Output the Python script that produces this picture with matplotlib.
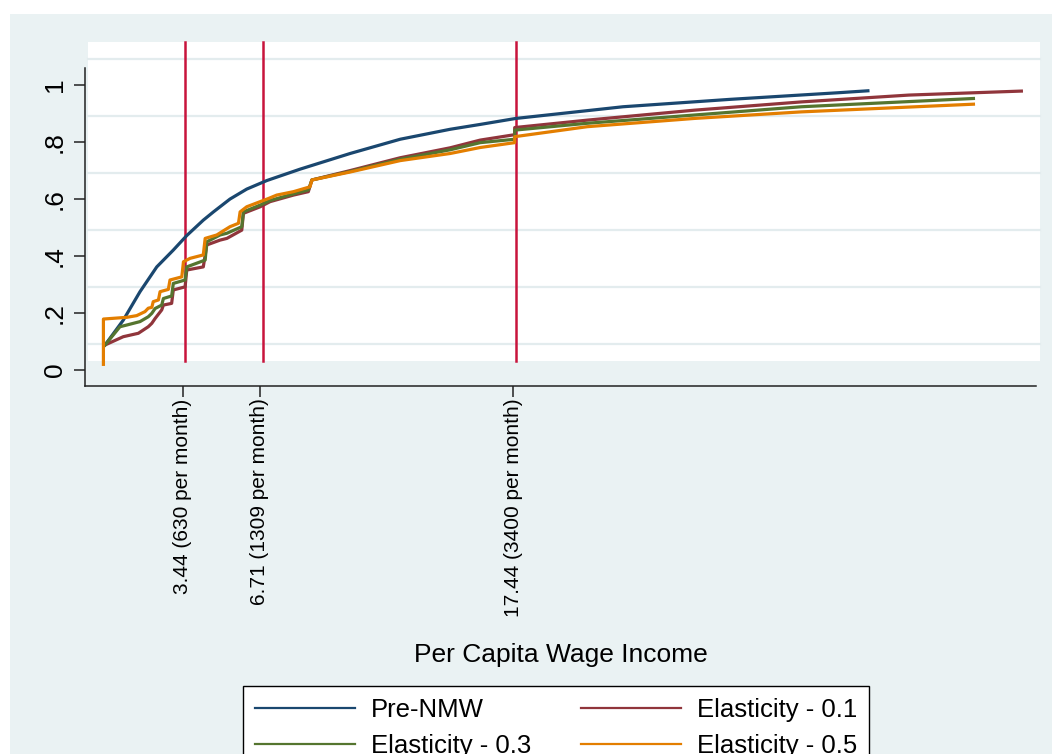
import matplotlib.pyplot as plt
import matplotlib.transforms as mtransforms
from matplotlib.patches import Rectangle
from matplotlib.lines import Line2D

plt.rcParams['font.family'] = ['Liberation Sans', 'DejaVu Sans']

# minimum wage levels, per capita per day
mw_values = [3.44, 6.71, 17.44]
mw_labels = ['3.44 (630 per month)', '6.71 (1309 per month)', '17.44 (3400 per month)']

y_ticks = [0, 0.2, 0.4, 0.6, 0.8, 1]
y_ticklabels = ['0', '.2', '.4', '.6', '.8', '1']

# cumulative distributions of per capita wage income
pre_x = [0.15, 0.92, 1.63, 2.34, 3.04, 3.61, 4.31, 4.74, 5.44, 6.15, 7.00, 8.41, 10.53,
         12.65, 14.77, 16.04, 17.55, 22.09, 26.63, 31.17, 32.46]
pre_y = [0.088, 0.175, 0.275, 0.362, 0.421, 0.472, 0.526, 0.555, 0.60, 0.635, 0.665, 0.705,
         0.76, 0.81, 0.845, 0.862, 0.883, 0.924, 0.95, 0.973, 0.98]

e01_x = [0.15, 0.92, 1.56, 1.98, 2.13, 2.27, 2.55, 2.62, 2.97, 3.04, 3.54, 3.61, 4.31, 4.46,
         5.02, 5.31, 5.94, 6.01, 6.72, 7.14, 8.13, 8.76, 8.91, 10.53, 12.65, 14.77, 16.04,
         17.5, 17.5, 20.57, 25.11, 29.64, 34.20, 38.96]
e01_y = [0.088, 0.117, 0.129, 0.152, 0.164, 0.181, 0.211, 0.228, 0.234, 0.281, 0.292, 0.351,
         0.362, 0.439, 0.456, 0.462, 0.491, 0.550, 0.573, 0.591, 0.614, 0.626, 0.667, 0.70,
         0.745, 0.78, 0.807, 0.826, 0.851, 0.877, 0.912, 0.941, 0.965, 0.979]

e03_x = [0.15, 0.78, 1.07, 1.63, 1.98, 2.13, 2.27, 2.55, 2.62, 2.97, 3.04, 3.54, 3.61, 4.39,
         4.46, 5.02, 5.31, 5.94, 6.01, 6.72, 7.14, 8.13, 8.76, 8.91, 10.53, 12.65, 14.77,
         16.04, 17.5, 17.5, 20.57, 25.11, 29.64, 36.93]
e03_y = [0.088, 0.152, 0.158, 0.170, 0.187, 0.199, 0.216, 0.228, 0.251, 0.26, 0.304, 0.316,
         0.362, 0.386, 0.45, 0.474, 0.48, 0.503, 0.555, 0.579, 0.595, 0.618, 0.632, 0.667,
         0.697, 0.74, 0.773, 0.798, 0.81, 0.842, 0.866, 0.895, 0.924, 0.953]

e05_x = [0.08, 0.08, 1.07, 1.49, 1.84, 1.98, 2.13, 2.19, 2.41, 2.48, 2.83, 2.90, 3.40, 3.47,
         3.75, 4.31, 4.39, 4.88, 5.44, 5.80, 5.87, 6.15, 6.72, 7.07, 7.42, 8.13, 8.83, 8.91,
         10.53, 12.65, 14.77, 16.04, 17.5, 17.5, 20.57, 25.11, 29.64, 36.93]
e05_y = [0.02, 0.179, 0.185, 0.191, 0.205, 0.217, 0.220, 0.240, 0.246, 0.275, 0.283, 0.316,
         0.327, 0.380, 0.392, 0.404, 0.462, 0.474, 0.503, 0.515, 0.555, 0.573, 0.591, 0.602,
         0.614, 0.626, 0.643, 0.667, 0.695, 0.735, 0.76, 0.781, 0.798, 0.819, 0.854, 0.883,
         0.906, 0.933]

W, H = 1052, 754
bg = '#eaf2f3'
axis_col = '#222222'

fig = plt.figure(figsize=(W / 100, H / 100), dpi=100)

# graph region and plot region backgrounds
fig.add_artist(Rectangle((10 / W, 0), 1, 1 - 14 / H, transform=fig.transFigure,
                         facecolor=bg, edgecolor='none', zorder=0))
fig.add_artist(Rectangle((88 / W, 1 - 361 / H), 952 / W, 319 / H, transform=fig.transFigure,
                         facecolor='white', edgecolor='none', zorder=0.5))

ax = fig.add_axes([85 / W, 1 - 386 / H, 951 / W, 318 / H])
ax.set_zorder(2)
ax.patch.set_visible(False)
ax.set_xlim(-0.7, 39.58)
ax.set_ylim(-0.056, 1.06)

# grid lines sit halfway between the y ticks
grid_tr = mtransforms.blended_transform_factory(fig.transFigure, ax.transData)
for t in y_ticks:
    ax.add_line(Line2D([88 / W, 1040 / W], [t + 0.091, t + 0.091], transform=grid_tr,
                       color='#e3ecee', lw=1.6, clip_on=False, zorder=0.5))

# vertical lines at the minimum wage levels
shift = mtransforms.ScaledTranslation(2.6 / 100, 0, fig.dpi_scale_trans)
vline_tr = mtransforms.blended_transform_factory(ax.transData + shift, fig.transFigure)
for v in mw_values:
    ax.add_line(Line2D([v, v], [1 - 361 / H, 1 - 42 / H], transform=vline_tr,
                       color='#c8143c', lw=1.8, clip_on=False, zorder=1))

h_pre, = ax.plot(pre_x, pre_y, color='#1a476f', lw=2.3, zorder=2)
h_e01, = ax.plot(e01_x, e01_y, color='#90353b', lw=2.3, zorder=2)
h_e03, = ax.plot(e03_x, e03_y, color='#55752f', lw=2.3, zorder=2)
h_e05, = ax.plot(e05_x, e05_y, color='#e37e00', lw=2.3, zorder=2)

for s in ['top', 'right']:
    ax.spines[s].set_visible(False)
for s in ['left', 'bottom']:
    ax.spines[s].set_color(axis_col)
    ax.spines[s].set_linewidth(1.1)

ax.set_xticks(mw_values, mw_labels, rotation=90, fontsize=15)
ax.tick_params(axis='x', length=8, width=1.1, pad=1, color=axis_col)
ax.set_yticks(y_ticks, y_ticklabels, fontsize=19)
ax.tick_params(axis='y', length=8, width=1.1, pad=5, color=axis_col, labelrotation=90)
for lab in ax.get_yticklabels():
    lab.set_va('center')

ax.set_xlabel('Per Capita Wage Income', fontsize=19)
ax.xaxis.set_label_coords(0.5, -0.846)
ax.xaxis.label.set_va('center')

leg = fig.legend([h_pre, h_e03, h_e01, h_e05],
                 ['Pre-NMW', 'Elasticity - 0.3', 'Elasticity - 0.1', 'Elasticity - 0.5'],
                 ncol=2, loc='upper left', bbox_to_anchor=(243 / W, 1 - 686 / H),
                 fontsize=18.5, frameon=True, fancybox=False, edgecolor='black',
                 framealpha=1, borderpad=0.45, handlelength=3.9, handletextpad=0.62,
                 columnspacing=1.95, labelspacing=0.5, borderaxespad=0)
leg.get_frame().set_linewidth(1.0)
for h in leg.legend_handles:
    h.set_linewidth(1.6)

fig.savefig('out.png', dpi=100)
